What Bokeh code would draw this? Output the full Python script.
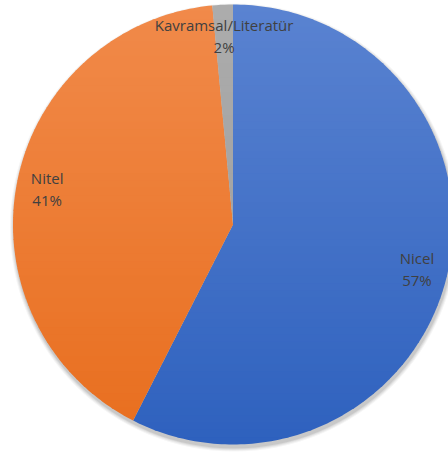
import math
from bokeh.plotting import figure
from bokeh.models import ColumnDataSource, Range1d
from bokeh.core.properties import value
from bokeh.embed import file_html
from bokeh.resources import INLINE

categories = ["Nicel", "Nitel", "Kavramsal/Literatür"]
shares = [57.5, 41.0, 1.5]
pct_labels = ["57%", "41%", "2%"]
top_colors = ["#5A83D1", "#F18A4A", "#ACACAC"]
bottom_colors = ["#2E61BE", "#E86E1E", "#9A9A9A"]

W, H = 448, 452
cx, cy = 232.5, H - 224
R = 220

p = figure(width=W, height=H, output_backend="svg", toolbar_location=None,
           x_range=Range1d(0, W), y_range=Range1d(0, H), min_border=0)
p.axis.visible = False
p.grid.visible = False
p.outline_line_color = None
p.background_fill_color = "white"
p.border_fill_color = "white"

# soft shadow
for k, a in enumerate([0.04, 0.05, 0.06, 0.08]):
    p.circle(x=[cx + 1], y=[cy - 3], radius=R + 4 - k, fill_color="black",
             fill_alpha=a, line_color=None)


def hexrgb(h):
    return tuple(int(h[i:i + 2], 16) for i in (1, 3, 5))


def mix(c0, c1, t):
    a, b = hexrgb(c0), hexrgb(c1)
    return "#%02x%02x%02x" % tuple(round(a[i] + (b[i] - a[i]) * t) for i in range(3))


def clip(poly, yv, keep_above):
    out = []
    n = len(poly)
    for i in range(n):
        P, Q = poly[i], poly[(i + 1) % n]
        pin = P[1] >= yv if keep_above else P[1] <= yv
        qin = Q[1] >= yv if keep_above else Q[1] <= yv
        if pin:
            out.append(P)
        if pin != qin:
            t = (yv - P[1]) / (Q[1] - P[1])
            out.append((P[0] + t * (Q[0] - P[0]), yv))
    return out


total = sum(shares)
starts, ends, lx, ly = [], [], [], []
acc = 0.0
for s in shares:
    a0 = math.pi / 2 - 2 * math.pi * acc / total
    acc += s
    a1 = math.pi / 2 - 2 * math.pi * acc / total
    starts.append(a0)
    ends.append(a1)
    mid = (a0 + a1) / 2
    lx.append(cx + 0.86 * R * math.cos(mid))
    ly.append(cy + 0.86 * R * math.sin(mid))

# gradient-filled wedges (horizontal bands, top light -> bottom dark)
NB = 60
band_h = 2 * R / NB
xs_all, ys_all, cols_all = [], [], []
for i in range(len(shares)):
    a0, a1 = starts[i], ends[i]
    nseg = max(4, int(abs(a0 - a1) / (2 * math.pi) * 360))
    poly = [(cx, cy)] + [(cx + R * math.cos(a0 + (a1 - a0) * k / nseg),
                          cy + R * math.sin(a0 + (a1 - a0) * k / nseg))
                         for k in range(nseg + 1)]
    for b in range(NB):
        ytop = cy + R - b * band_h
        ybot = ytop - band_h - 0.8
        piece = clip(clip(poly, ybot, True), ytop, False)
        if len(piece) < 3:
            continue
        t = (b + 0.5) / NB
        xs_all.append([q[0] for q in piece])
        ys_all.append([q[1] for q in piece])
        cols_all.append(mix(top_colors[i], bottom_colors[i], t))

p.patches(xs="xs", ys="ys", fill_color="c", line_color=None,
          source=ColumnDataSource(dict(xs=xs_all, ys=ys_all, c=cols_all)))

src = ColumnDataSource(dict(cat=categories, pct=pct_labels, lx=lx, ly=ly))
p.text(x="lx", y="ly", text="cat", source=src, y_offset=-11,
       text_align="center", text_baseline="middle",
       text_font=value("Open Sans"), text_font_size="15px", text_color="#404040")
p.text(x="lx", y="ly", text="pct", source=src, y_offset=11,
       text_align="center", text_baseline="middle",
       text_font=value("Open Sans"), text_font_size="15px", text_color="#404040")

open("out.html", "w").write(file_html(p, INLINE))
